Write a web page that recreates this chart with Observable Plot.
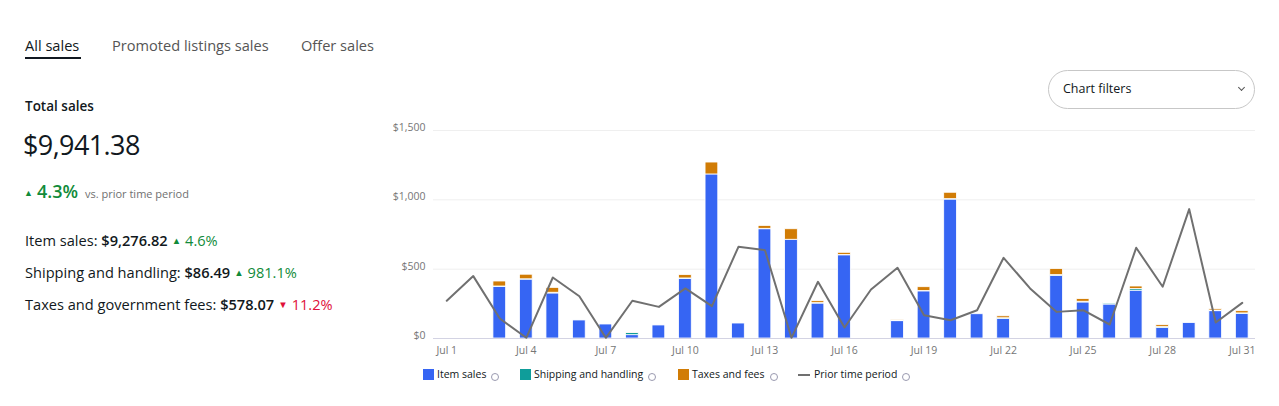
<!DOCTYPE html>
<html>
<head>
<meta charset="utf-8">
<script src="https://cdn.jsdelivr.net/npm/d3@7"></script>
<script src="https://cdn.jsdelivr.net/npm/@observablehq/plot@0.6"></script>
<style>
  html, body { margin: 0; padding: 0; background: #fff; }
  body { width: 1279px; height: 406px; position: relative; overflow: hidden; font-family: "Open Sans", sans-serif; color: #111820; }
  .abs { position: absolute; white-space: nowrap; }
  .tab { font-size: 14.6px; color: #555; top: 35px; }
  .tab.active { color: #111820; }
  .underline { position: absolute; left: 25px; top: 57px; width: 56px; height: 2px; background: #111820; }
  .green { color: #118b3a; }
  .red { color: #e0103a; }
  .tri { font-size: 9.5px; position: relative; top: -2px; margin: 0 4px 0 4px; }
  .stat { font-size: 14.6px; left: 25px; }
  .stat b { font-weight: 600; }
  .filters { position: absolute; left: 1048px; top: 70px; width: 207px; height: 39px; border: 1px solid #c7c7c7; border-radius: 20px; box-sizing: border-box; }
  .filters span { position: absolute; left: 14px; top: 9px; font-size: 12.5px; color: #111820; }
  .chev { position: absolute; left: 190px; top: 14px; width: 4px; height: 4px; border-right: 1px solid #555; border-bottom: 1px solid #555; transform: rotate(45deg); }
  .leg { position: absolute; top: 367px; font-size: 10.5px; color: #111820; }
  .sw { position: absolute; top: 369px; width: 11px; height: 11px; }
  .info { display: inline-block; width: 6px; height: 6px; border: 1px solid #9a9ab0; border-radius: 50%; margin-left: 5px; position: relative; top: 3px; }
  #chart { position: absolute; left: 380px; top: 110px; }
</style>
</head>
<body>
<div class="abs tab active" style="left:25px">All sales</div>
<div class="underline"></div>
<div class="abs tab" style="left:112px">Promoted listings sales</div>
<div class="abs tab" style="left:301px">Offer sales</div>

<div class="abs" style="left:25px; top:97px; font-size:13.5px; font-weight:600;">Total sales</div>
<div class="abs" style="left:23px; top:126px; font-size:27px; font-weight:400; letter-spacing:-0.6px;">$9,941.38</div>
<div class="abs" style="left:24px; top:179px;"><span class="green tri" style="margin-left:0; font-size:9px;">&#9650;</span><span class="green" style="font-size:18px; font-weight:600;">4.3%</span><span style="font-size:11px; color:#707070; margin-left:7px;">vs. prior time period</span></div>

<div class="abs stat" style="top:230px">Item sales: <b>$9,276.82</b><span class="green tri">&#9650;</span><span class="green">4.6%</span></div>
<div class="abs stat" style="top:262px">Shipping and handling: <b>$86.49</b><span class="green tri">&#9650;</span><span class="green">981.1%</span></div>
<div class="abs stat" style="top:294px">Taxes and government fees: <b>$578.07</b><span class="red tri">&#9660;</span><span class="red">11.2%</span></div>

<div class="filters"><span>Chart filters</span><div class="chev"></div></div>

<div id="chart"></div>

<div class="sw" style="left:423px; background:#3665f3"></div>
<div class="leg" style="left:437px">Item sales<span class="info"></span></div>
<div class="sw" style="left:520px; background:#0f9d9a"></div>
<div class="leg" style="left:534px">Shipping and handling<span class="info"></span></div>
<div class="sw" style="left:678px; background:#d17c05"></div>
<div class="leg" style="left:692px">Taxes and fees<span class="info"></span></div>
<div class="abs" style="left:798px; top:374px; width:12px; height:2px; background:#707070"></div>
<div class="leg" style="left:814px">Prior time period<span class="info"></span></div>

<script>
const days = [1,2,3,4,5,6,7,8,9,10,11,12,13,14,15,16,17,18,19,20,21,22,23,24,25,26,27,28,29,30,31];
const itemSales = [0,0,372,425,325,130,101,24,94,430,1183,108,788,712,252,600,0,125,340,1002,175,142,0,452,260,245,345,77,111,197,178];
const shipping  = [0,0,3,2,5,0,0,15,0,3,0,0,3,0,3,3,0,5,3,3,0,4,0,5,5,8,12,5,0,5,3];
const taxes     = [0,0,36,33,35,0,0,2,0,24,86,0,21,76,14,15,0,2,27,46,0,14,0,44,19,4,18,14,0,10,16];
const prior     = [272,450,144,5,440,305,5,272,228,361,233,661,637,5,409,79,353,510,168,132,204,582,361,192,204,101,654,373,933,115,257];
const seriesNames = ["Item sales", "Shipping and handling", "Taxes and fees"];
const seriesColors = ["#3665f3", "#0f9d9a", "#d17c05"];
const yTicks = [0, 500, 1000, 1500];
const xTicks = [1,4,7,10,13,16,19,22,25,28,31];
const monthLabel = "Jul";

const rows = [];
days.forEach((d, i) => {
  rows.push({day: d, series: seriesNames[0], value: itemSales[i]});
  rows.push({day: d, series: seriesNames[1], value: shipping[i]});
  rows.push({day: d, series: seriesNames[2], value: taxes[i]});
});
const priorRows = days.map((d, i) => ({day: d, value: prior[i]}));

const chart = Plot.plot({
  width: 895,
  height: 258,
  marginLeft: 53,
  marginRight: 20,
  marginTop: 20,
  marginBottom: 30,
  style: {fontFamily: "Open Sans, sans-serif", background: "transparent"},
  x: {type: "band", domain: days, paddingInner: 0.52, paddingOuter: 0.26, round: false, label: null},
  y: {domain: [0, 1500], label: null},
  color: {domain: seriesNames, range: seriesColors},
  marks: [
    Plot.gridY(yTicks, {stroke: "#efefef", strokeOpacity: 1, strokeWidth: 1}),
    Plot.axisY({ticks: yTicks, tickSize: 0, tickPadding: 8, dy: -3, fontSize: 10.5, fill: "#767676", tickFormat: d => "$" + d3.format(",")(d), label: null}),
    Plot.axisX({ticks: xTicks, tickSize: 0, tickPadding: 8, fontSize: 10.5, fill: "#767676", tickFormat: d => monthLabel + " " + d, label: null}),
    Plot.barY(rows, Plot.stackY({x: "day", y: "value", fill: "series", order: seriesNames, stroke: "white", strokeWidth: 0.8})),
    Plot.ruleY([0], {stroke: "#d3d3e3", strokeWidth: 1}),
    Plot.line(priorRows, {x: "day", y: "value", stroke: "#707070", strokeWidth: 2})
  ]
});
document.getElementById("chart").appendChild(chart);
</script>
</body>
</html>
